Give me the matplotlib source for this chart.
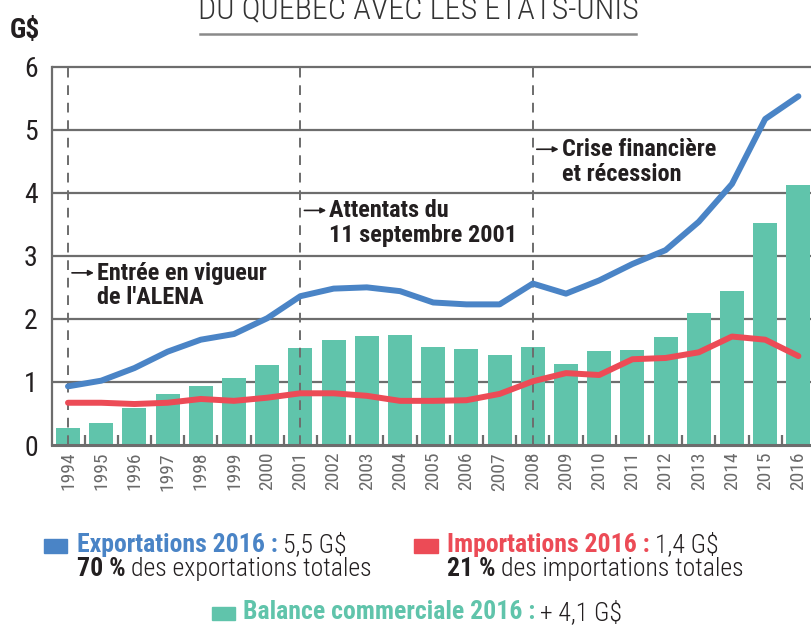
import matplotlib.pyplot as plt
import numpy as np

# data (G$)
years = list(range(1994, 2017))
balance = [0.27, 0.35, 0.58, 0.81, 0.94, 1.07, 1.27, 1.54, 1.67, 1.73, 1.74,
           1.55, 1.52, 1.43, 1.55, 1.28, 1.49, 1.51, 1.71, 2.09, 2.44, 3.52, 4.12]
exports = [0.93, 1.02, 1.22, 1.48, 1.67, 1.76, 2.01, 2.36, 2.48, 2.50, 2.44,
           2.26, 2.23, 2.23, 2.56, 2.40, 2.61, 2.87, 3.09, 3.54, 4.14, 5.17, 5.53]
imports = [0.67, 0.67, 0.65, 0.67, 0.73, 0.70, 0.75, 0.82, 0.82, 0.78, 0.70,
           0.70, 0.71, 0.81, 1.01, 1.14, 1.11, 1.36, 1.38, 1.47, 1.72, 1.67, 1.41]
event_years = [1994, 2001, 2008]
event_labels = ["Entrée en vigueur\nde l'ALENA", "Attentats du\n11 septembre 2001",
                "Crise financière\net récession"]
event_y = [2.53, 3.52, 4.49]

BLUE = '#4a84c6'
RED = '#ec4b56'
GREEN = '#60c4ab'
GRID = '#6d6d6d'
DARK = '#231f20'

NARROW = ['Liberation Sans Narrow', 'Roboto Condensed', 'DejaVu Sans']
plt.rcParams['font.family'] = NARROW

fig = plt.figure(figsize=(8.12, 6.28), dpi=100)
ax = fig.add_axes([0.0637, 0.2914, 0.9363, 0.6075])

ax.bar(years, balance, width=0.72, color=GREEN, zorder=2)
ax.plot(years, exports, color=BLUE, lw=4.3, solid_capstyle='round', zorder=4)
ax.plot(years, imports, color=RED, lw=4.3, solid_capstyle='round', zorder=4)

for y in range(1, 7):
    ax.axhline(y, color=GRID, lw=1.6, zorder=1)
for ey in event_years:
    ax.plot([ey, ey], [0, 6], color=GRID, lw=1.4, ls=(0, (5, 4)), zorder=3)

for ey, lab, ty in zip(event_years, event_labels, event_y):
    ax.text(ey + 0.87, ty, lab, fontsize=17.5, fontweight='bold', color=DARK,
            va='center', ha='left', linespacing=1.1, zorder=5)
    ax.annotate('', xy=(ey + 0.78, ty + 0.2), xytext=(ey + 0.12, ty + 0.2),
                arrowprops=dict(arrowstyle='-|>', color=DARK, lw=1.2,
                                mutation_scale=8, shrinkA=0, shrinkB=0))

ax.set_xlim(1993.51, 2016.41)
ax.set_ylim(0, 6.05)
ax.set_yticks(range(0, 7))
ax.set_xticks(years)
ax.set_xticklabels([str(y) for y in years], rotation=90, fontsize=14, color='#6a6a6a')
ax.set_xticks(np.arange(1994.5, 2016, 1), minor=True)
ax.tick_params(axis='x', which='major', length=0, pad=5)
ax.tick_params(axis='x', which='minor', direction='in', length=7, width=1.6, color=GRID)
ax.tick_params(axis='y', length=0, labelsize=20, labelcolor=DARK, pad=10)

for s in ['top', 'right']:
    ax.spines[s].set_visible(False)
ax.spines['left'].set_color(GRID)
ax.spines['left'].set_linewidth(1.6)
ax.spines['left'].set_bounds(0, 6)
ax.spines['bottom'].set_color(GRID)
ax.spines['bottom'].set_linewidth(2.2)
ax.spines['bottom'].set_zorder(6)

# header
fig.text(0.012, 0.952, 'G$', fontsize=20, fontweight='bold', color=DARK, va='center')
fig.text(0.515, 0.985, 'DU QUÉBEC AVEC LES ÉTATS-UNIS', fontsize=23, fontweight='light',
         color='#333333', ha='center', va='center')
fig.add_artist(plt.Line2D([0.246, 0.783], [0.946, 0.946], color='#8a8a8a', lw=1.8))

# legend block
fig.patches.append(plt.Rectangle((0.054, 0.120), 0.029, 0.021, color=BLUE,
                                 transform=fig.transFigure, figure=fig))
fig.patches.append(plt.Rectangle((0.510, 0.120), 0.029, 0.021, color=RED,
                                 transform=fig.transFigure, figure=fig))
fig.patches.append(plt.Rectangle((0.261, 0.013), 0.029, 0.021, color=GREEN,
                                 transform=fig.transFigure, figure=fig))

def two_part(x, y, bold, rest, color):
    t = fig.text(x, y, bold, fontsize=18.5, fontweight='bold', color=color, va='center')
    fig.canvas.draw()
    bb = t.get_window_extent()
    x2 = bb.x1 / fig.bbox.width
    fig.text(x2 + 0.006, y, rest, fontsize=18.5, fontweight='light', color=DARK,
             va='center')

two_part(0.095, 0.132, 'Exportations 2016 :', '5,5 G$', BLUE)
two_part(0.095, 0.094, '70 %', 'des exportations totales', DARK)
two_part(0.551, 0.132, 'Importations 2016 :', '1,4 G$', RED)
two_part(0.551, 0.094, '21 %', 'des importations totales', DARK)
two_part(0.299, 0.025, 'Balance commerciale 2016 :', '+ 4,1 G$', GREEN)

fig.savefig('out.png', dpi=100)
